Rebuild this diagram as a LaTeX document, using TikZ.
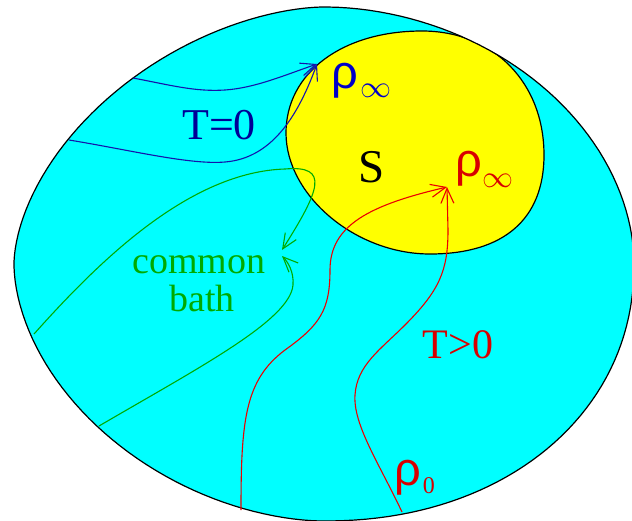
\RequirePackage{fix-cm}
\documentclass[tikz,border=0pt]{standalone}
\usepackage{fontspec}
\setmainfont{Liberation Serif}
\newfontfamily\rhofont{Liberation Sans}
\usetikzlibrary{arrows.meta}
\definecolor{bathcyan}{RGB}{0,255,255}
\definecolor{sysyellow}{RGB}{255,255,0}
\definecolor{navyT}{RGB}{0,0,150}
\definecolor{rhoblue}{RGB}{0,0,200}
\definecolor{lineblue}{RGB}{20,20,170}
\definecolor{textred}{RGB}{215,0,0}
\definecolor{linered}{RGB}{235,0,0}
\definecolor{bathgreen}{RGB}{0,170,0}
\tikzset{
  declare function={ex(\a)=(cos(\a)>=0) ? ((sin(\a)>=0) ? 0.95 : 1.04) : ((sin(\a)>=0) ? 1.1 : 1.15);},
  outline/.style={draw=black, line width=1.2pt},
  flow/.style={line width=1.1pt, -{Straight Barb[length=15pt,width=13pt]}},
  bigtext/.style={inner sep=0pt, anchor=base, font=\fontsize{44}{44}\selectfont},
  rholabel/.style={inner sep=0pt, anchor=base west},
}
\newcommand{\rhosym}{{\rhofont\fontsize{47}{47}\selectfont ρ}}
\newcommand{\infsub}[1]{\raisebox{-#1}{\fontsize{31}{31}\selectfont$\infty$}}
\begin{document}
\begin{tikzpicture}[x=1pt,y=-1pt]
\useasboundingbox (0,0) rectangle (632,520);
% bath (outer region): a superellipse-like blob
\path[fill=bathcyan] plot[domain=1:361, samples=181, variable=\t]
  ({324+310*cos(\t)*pow(abs(cos(\t)),ex(\t)-1)},
   {264+257*sin(\t)*pow(abs(sin(\t)),ex(\t)-1)}) -- cycle;
% system S, bounded by the bath
\begin{scope}
  \clip plot[domain=1:361, samples=181, variable=\t]
    ({324+310*cos(\t)*pow(abs(cos(\t)),ex(\t)-1)},
     {264+257*sin(\t)*pow(abs(sin(\t)),ex(\t)-1)}) -- cycle;
  \path[outline, fill=sysyellow] (422,31)
    .. controls (494,31) and (544,83) .. (544,155)
    .. controls (544,219) and (504,254) .. (430,254)
    .. controls (355,254) and (286,195) .. (286,133)
    .. controls (286,73) and (342,31) .. (422,31) -- cycle;
\end{scope}
\path[outline] plot[domain=1:361, samples=181, variable=\t]
  ({324+310*cos(\t)*pow(abs(cos(\t)),ex(\t)-1)},
   {264+257*sin(\t)*pow(abs(sin(\t)),ex(\t)-1)}) -- cycle;

% named end points
\coordinate (b1s) at (133,78);
\coordinate (b2s) at (69,140);
\coordinate (btip) at (317,64);
\coordinate (g1s) at (34,334);
\coordinate (g1tip) at (282,250);
\coordinate (g2s) at (99,426);
\coordinate (g2tip) at (282,256);
\coordinate (r1s) at (241,510);
\coordinate (r2s) at (402,512);
\coordinate (rtip) at (447,187);

% T=0 trajectories
\draw[flow, lineblue] (b1s) .. controls (170,85) and (195,92) .. (225,90)
  .. controls (255,88) and (285,75) .. (btip);
\draw[flow, lineblue] (b2s) .. controls (130,150) and (190,165) .. (225,162)
  .. controls (275,158) and (300,110) .. (btip);

% common bath trajectories
\draw[flow, bathgreen] (g1s) .. controls (100,260) and (190,172) .. (285,169)
  .. controls (330,165) and (320,190) .. (g1tip);
\draw[flow, bathgreen] (g2s) .. controls (200,367) and (290,320) .. (293,285)
  .. controls (294,272) and (288,262) .. (g2tip);

% T>0 trajectories
\draw[flow, linered] (r1s) .. controls (241,420) and (245,380) .. (285,350)
  .. controls (320,325) and (330,310) .. (330,270)
  .. controls (330,225) and (370,205) .. (rtip);
\draw[flow, linered] (r2s) .. controls (380,465) and (353,425) .. (355,395)
  .. controls (357,365) and (380,350) .. (405,325)
  .. controls (440,290) and (448,270) .. (448,230) -- (rtip);

% labels
\node[bigtext, text=navyT] (tzero) at (219,139) {T=0};
\node[bigtext, text=black, font=\fontsize{47}{47}\selectfont] (sysS) at (372,182) {S};
\node[bigtext, text=textred, font=\fontsize{42}{42}\selectfont] (tpos) at (458,358) {T>0};
\node[bigtext, text=bathgreen, font=\fontsize{38}{38}\selectfont] (common) at (199,273) {common};
\node[bigtext, text=bathgreen, font=\fontsize{38}{38}\selectfont] (bath) at (202,311) {bath};
\node[rholabel, text=rhoblue] (rhoinfB) at (331,88) {\rhosym\kern3pt\infsub{9pt}};
\node[rholabel, text=textred] (rhoinfR) at (455,176) {\rhosym\kern1pt\infsub{11pt}};
\node[rholabel, text=textred] (rhozero) at (394,485) {\rhosym\kern2pt\raisebox{-8pt}{\fontsize{24}{24}\selectfont 0}};
\end{tikzpicture}
\end{document}
